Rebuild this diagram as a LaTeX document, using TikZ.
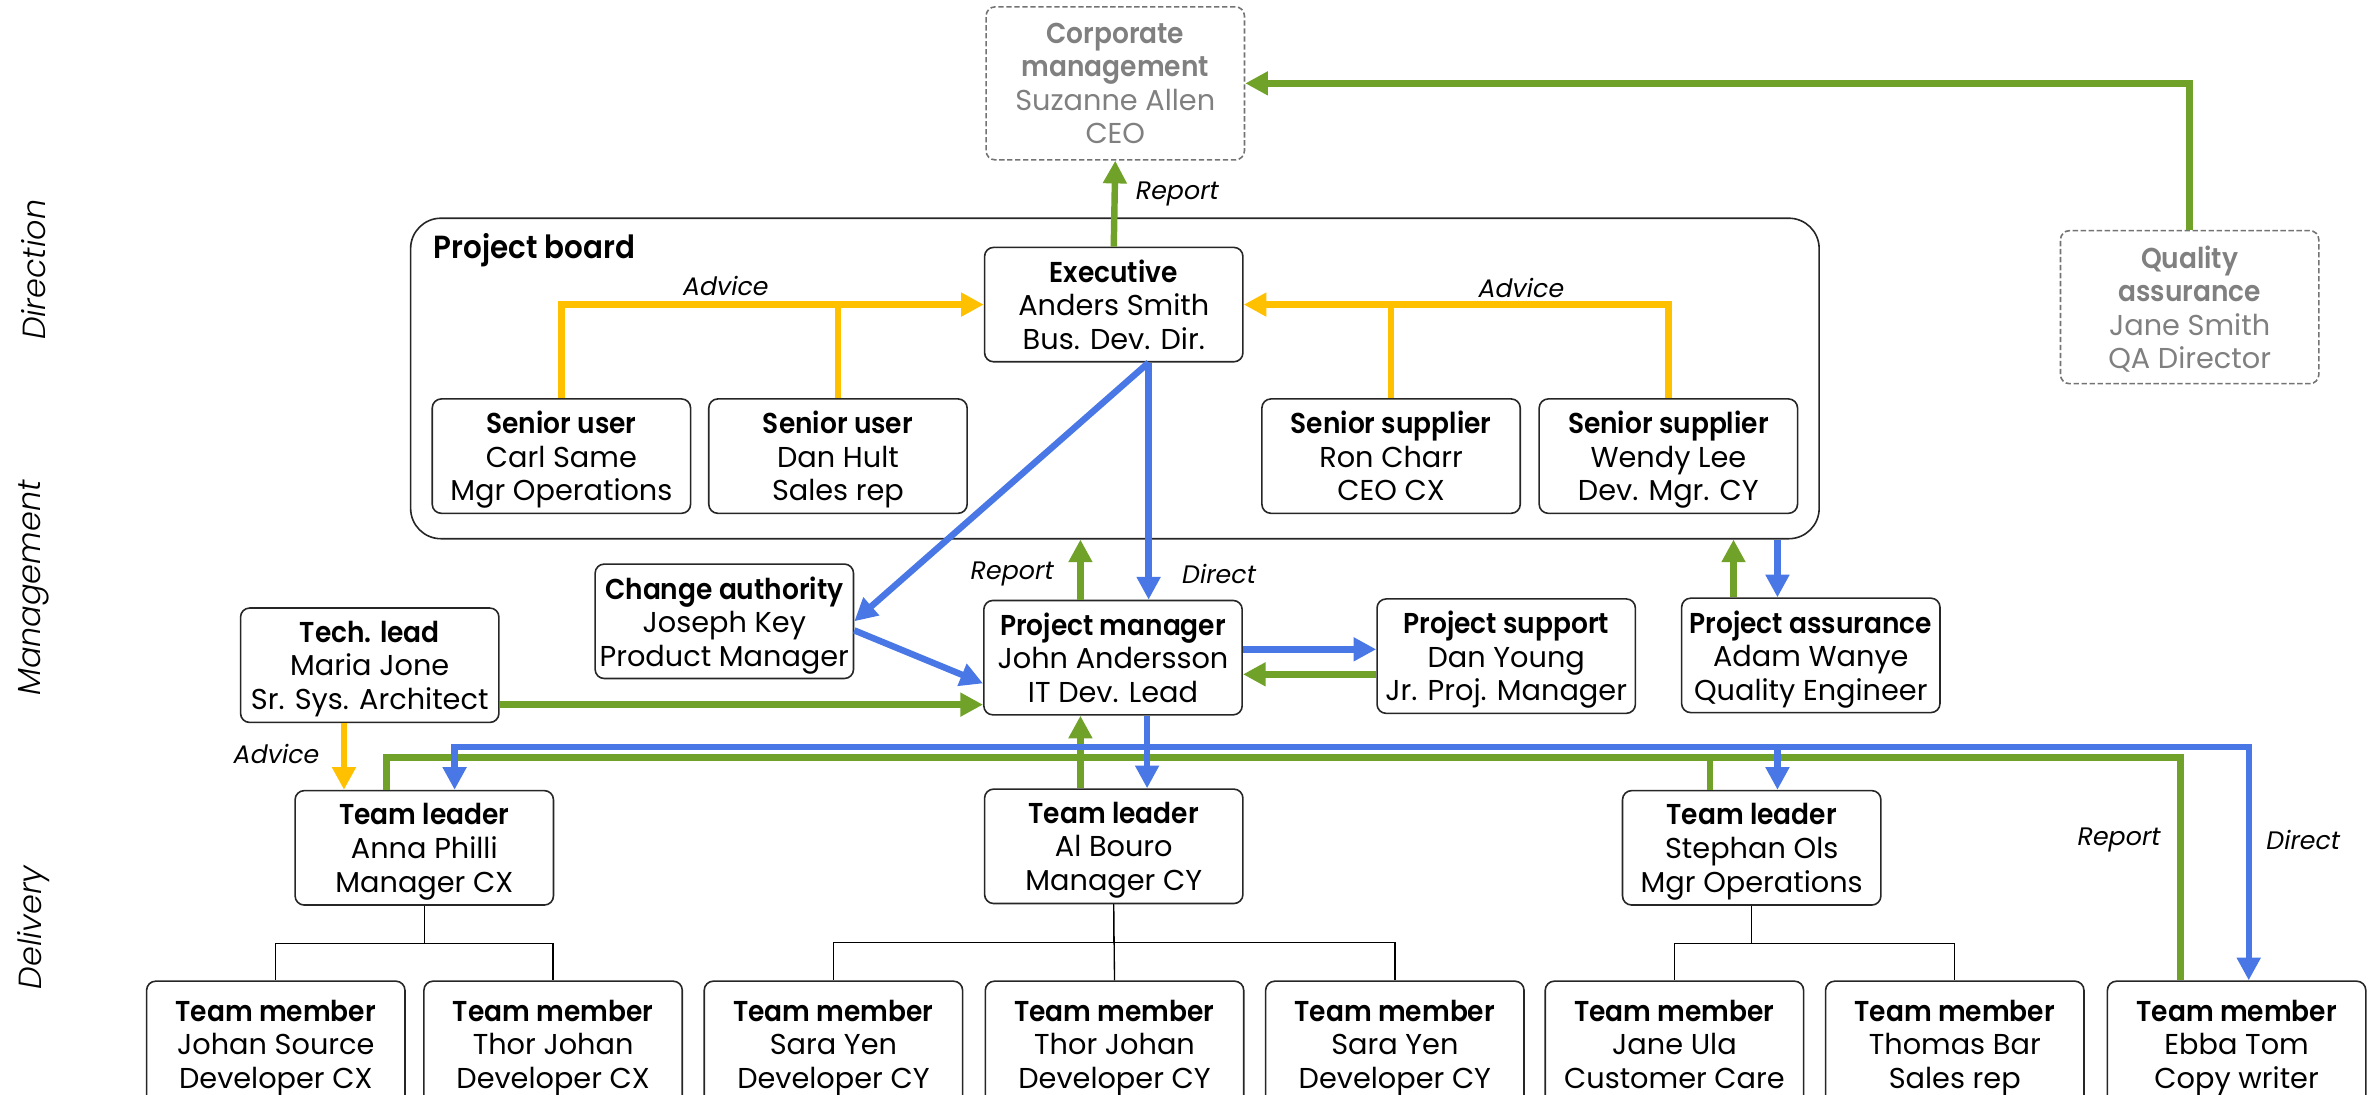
\documentclass[tikz,border=0pt]{standalone}
\usepackage{fontspec}
\setmainfont{Poppins}[BoldFont={* SemiBold},BoldFeatures={FakeStretch=0.92}]
\newfontfamily\lanefont{Poppins Light Italic}
\usetikzlibrary{arrows.meta,calc}
\definecolor{verde}{RGB}{112,161,40}
\definecolor{blu}{RGB}{73,120,230}
\definecolor{giallo}{RGB}{255,192,0}
\newcommand{\ruolo}[3]{\textbf{#1}\\#2\\\smash{#3}}
\tikzset{
>={Triangle[length=3mm,width=3mm]},
main node/.style={draw=black!85,line width=0.6pt,rounded corners=1.2mm,minimum width=34.1mm,minimum height=15.1mm,align=center,inner sep=1pt,font=\fontsize{10.8}{12.6}\selectfont},
member node/.style={main node,minimum height=16.6mm},
ghost node/.style={main node,draw=gray!90!black,dash pattern=on 2pt off 1pt,text=gray,minimum height=20.2mm},
board/.style={draw=black!85,line width=0.6pt,rounded corners=4mm,minimum width=185.9mm,minimum height=42.3mm},
report/.style={->,draw=verde,line width=0.85mm},
direct/.style={->,draw=blu,line width=0.85mm},
advice/.style={->,draw=giallo,line width=0.85mm},
tree/.style={draw=black,line width=0.5pt},
tag/.style={font=\itshape\fontsize{9.5}{11}\selectfont},
lane/.style={rotate=90,font=\lanefont\fontsize{12}{14}\selectfont}}

\begin{document}
\begin{tikzpicture}[x=0.2mm,y=-0.2mm]
\useasboundingbox (0,0) rectangle (1568,722);

% lanes
\node[lane] (dir) at (22,178) {Direction};
\node[lane] (man) at (22,388) {Management};
\node[lane] (del) at (22,612) {Delivery};

% project board
\node[board] (board) at (735.75,249.75) {};
\node[anchor=west,inner sep=0pt,font=\bfseries\fontsize{12}{14}\selectfont] (bt) at (286,165) {Project board};

\node[ghost node] (corp) at (736,55) {\ruolo{Corporate}{\textbf{management}\\Suzanne Allen}{CEO}};
\node[ghost node] (qa) at (1445,202.7) {\ruolo{Quality}{\textbf{assurance}\\Jane Smith}{QA Director}};

\node[main node] (exec) at (735,201) {\ruolo{Executive}{Anders Smith}{Bus. Dev. Dir.}};
\node[main node] (su1) at (370.5,301) {\ruolo{Senior user}{Carl Same}{Mgr Operations}};
\node[main node] (su2) at (553,301) {\ruolo{Senior user}{Dan Hult}{Sales rep}};
\node[main node] (ss1) at (918,301) {\ruolo{Senior supplier}{Ron Charr}{CEO CX}};
\node[main node] (ss2) at (1101,301) {\ruolo{Senior supplier}{Wendy Lee}{Dev. Mgr. CY}};

\node[main node] (ca) at (478,410) {\ruolo{Change authority}{Joseph Key}{Product Manager}};
\node[main node] (tech) at (244,439) {\ruolo{Tech. lead}{Maria Jone}{Sr. Sys. Architect}};
\node[main node] (pm) at (734.5,434) {\ruolo{Project manager}{John Andersson}{IT Dev. Lead}};
\node[main node] (ps) at (994,433) {\ruolo{Project support}{Dan Young}{Jr. Proj. Manager}};
\node[main node] (pa) at (1195,432.5) {\ruolo{Project assurance}{Adam Wanye}{Quality Engineer}};

\node[main node] (tl1) at (280,559.5) {\ruolo{Team leader}{Anna Philli}{Manager CX}};
\node[main node] (tl2) at (735,558.5) {\ruolo{Team leader}{Al Bouro}{Manager CY}};
\node[main node] (tl3) at (1156,559.5) {\ruolo{Team leader}{Stephan Ols}{Mgr Operations}};

\node[member node] (tm1) at (182,689) {\ruolo{Team member}{Johan Source}{Developer CX}};
\node[member node] (tm2) at (365,689) {\ruolo{Team member}{Thor Johan}{Developer CX}};
\node[member node] (tm3) at (550,689) {\ruolo{Team member}{Sara Yen}{Developer CY}};
\node[member node] (tm4) at (735.5,689) {\ruolo{Team member}{Thor Johan}{Developer CY}};
\node[member node] (tm5) at (920.5,689) {\ruolo{Team member}{Sara Yen}{Developer CY}};
\node[member node] (tm6) at (1105,689) {\ruolo{Team member}{Jane Ula}{Customer Care}};
\node[member node] (tm7) at (1290,689) {\ruolo{Team member}{Thomas Bar}{Sales rep}};
\node[member node] (tm8) at (1476,689) {\ruolo{Team member}{Ebba Tom}{Copy writer}};

% labels
\node[tag] (t1) at (777,128) {Report};
\node[tag] (t2) at (479,189) {Advice};
\node[tag] (t3) at (1004,190) {Advice};
\node[tag] (t4) at (668,379) {Report};
\node[tag] (t5) at (804.5,379) {Direct};
\node[tag] (t6) at (182.5,497.5) {Advice};
\node[tag] (t7) at (1398.5,554) {Report};
\node[tag] (t8) at (1520,554) {Direct};

% tree
\foreach \capo/\a/\b in {tl1/tm1/tm2,tl2/tm3/tm5,tl3/tm6/tm7}{
  \draw[tree] (\capo.south) -- ++(0,25) -| (\a.north);
  \draw[tree] (\capo.south) -- ++(0,25) -| (\b.north);
}
\draw[tree] (tl2.south) -- (tm4.north);

% advice
\draw[advice] (su1.north) |- (exec.west);
\draw[advice,-] (su2.north) -- (su2.north |- exec.west);
\draw[advice] (ss2.north) |- (exec.east);
\draw[advice,-] (ss1.north) -- (ss1.north |- exec.east);
\coordinate (tks) at ([xshift=-3.4mm]tech.south);
\draw[advice] (tks) -- (tks |- tl1.north);

% report
\draw[report] (exec.north) -- (corp.south);
\draw[report] (qa.north) |- (corp.east);
\coordinate (pmr) at ([xshift=-4.3mm]pm.north);
\draw[report] (pmr) -- (pmr |- board.south);
\coordinate (tke) at ([yshift=-5.2mm]tech.east);
\draw[report] (tke) -- (tke -| pm.west);
\coordinate (psi) at ([yshift=-2.4mm]ps.west);
\draw[report] (psi) -- (psi -| pm.east);
\coordinate (par) at ([xshift=-10.2mm]pa.north);
\draw[report] (par) -- (par |- board.south);

\coordinate (gbus) at (0,500);
\coordinate (g1) at ([xshift=-5mm]tl1.north);
\coordinate (g2) at ([xshift=-4.4mm]tl2.north);
\coordinate (g3) at ([xshift=-5.5mm]tl3.north);
\coordinate (g8) at ([xshift=-7.4mm]tm8.north);
\draw[report,-] (g1) -- (g1 |- gbus) -- (g8 |- gbus) -- (g8);
\draw[report,-] (g3) -- (g3 |- gbus);
\draw[report] (g2) -- (g2 |- pm.south);

% direct
\coordinate (exd) at ([xshift=4.6mm]exec.south);
\draw[direct] (exd) -- (exd |- pm.north);
\draw[direct] (exd) -- (ca.east);
\coordinate (cao) at ([yshift=-1.2mm]ca.east);
\coordinate (pmi) at ([yshift=-3.4mm]pm.west);
\draw[direct] (cao) -- (pmi);
\coordinate (pmo) at ([yshift=1.1mm]pm.east);
\draw[direct] (pmo) -- (pmo -| ps.west);
\coordinate (pad) at ([xshift=-4.4mm]pa.north);
\draw[direct] (pad |- board.south) -- (pad);

\coordinate (bbus) at (0,493);
\coordinate (b1) at ([xshift=4mm]tl1.north);
\coordinate (b2) at ([xshift=4.4mm]tl2.north);
\coordinate (b3) at ([xshift=3.4mm]tl3.north);
\coordinate (b8) at ([xshift=1.6mm]tm8.north);
\draw[direct,<->] (b1) -- (b1 |- bbus) -- (b8 |- bbus) -- (b8);
\draw[direct] (b3 |- bbus) -- (b3);
\draw[direct] (b2 |- pm.south) -- (b2);

\end{tikzpicture}
\end{document}
